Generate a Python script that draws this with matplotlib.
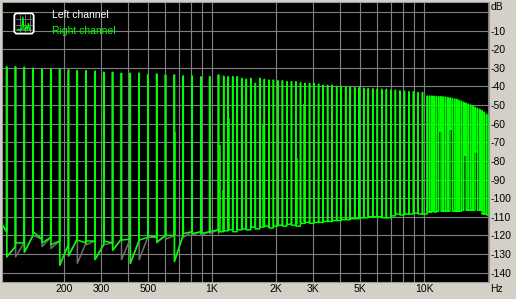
import matplotlib
matplotlib.use('Agg')
import matplotlib.pyplot as plt
from matplotlib.patches import FancyBboxPatch
from matplotlib.ticker import NullLocator

# --- data (Hz / dB) ---
# tones below ~1 kHz (one tone every ~10 %)
low_freqs = [107.5, 118.3, 130.2, 143.3, 157.7, 173.6, 191.1, 210.3, 231.4, 254.7,
             280.4, 308.6, 339.6, 373.8, 411.4, 452.8, 498.4, 548.5, 603.7, 664.4,
             731.3, 804.9, 885.9, 975.0, 1073]
low_peaks = [-29.5, -29.5, -29.8, -30.3, -30.7, -30.7, -30.7, -31.2, -31.6, -31.6,
             -31.9, -32.5, -32.5, -33.0, -33.0, -33.0, -33.9, -33.4, -33.9, -33.9,
             -34.5, -34.5, -35.0, -34.8, -33.9]
# dip right after each tone, and floor level just before each tone
low_troughs_r = [-131.5, -124, -129, -118, -124, -125, -136, -131, -122.5, -123,
                 -133, -123, -128, -122.5, -135, -122.5, -120, -123.5, -120, -134,
                 -119, -119, -119, -118, -118]
low_troughs_l = [-131.5, -131.5, -129, -120, -126, -127, -136, -131, -135, -125,
                 -133, -125, -128, -133, -135, -133, -121, -124, -122, -134,
                 -121, -120, -120, -119, -119]
low_bases = [-118, -126, -124, -120, -122, -121, -123, -125, -122, -124,
             -123, -125, -124, -122, -122, -123, -121, -121, -120, -120,
             -120, -118, -118, -118, -117]

# tones 1 kHz .. 10 kHz (one tone every ~5 %)
mid_freqs = [1135.5, 1192.6, 1252.6, 1315.6, 1381.8, 1451.3, 1524.3, 1601.0, 1681.5, 1766.1,
             1854.9, 1948.2, 2046.2, 2149.1, 2257.2, 2370.7, 2490.0, 2615.2, 2746.8, 2885.0,
             3030.1, 3182.5, 3342.6, 3510.7, 3687.3, 3872.8, 4067.6, 4272.2, 4487.1, 4712.8,
             4949.9, 5198.9, 5460.4, 5735.1, 6023.6, 6326.6, 6644.8, 6979.0, 7330.0, 7698.7,
             8086.0, 8492.7, 8919.9, 9368.6, 9839.8]
mid_peaks = [-34.5, -34.8, -34.8, -34.8, -35.7, -36.2, -35.7, -38.4, -35.7, -36.2,
             -36.6, -36.6, -37.0, -37.0, -37.5, -37.5, -37.5, -38.1, -38.4, -38.4,
             -38.4, -38.8, -39.4, -39.4, -39.4, -40.0, -40.0, -40.3, -40.3, -40.7,
             -40.7, -41.0, -41.2, -41.3, -41.4, -41.5, -41.6, -42.0, -42.0, -42.4,
             -42.6, -42.9, -42.9, -43.3, -43.3]
mid_troughs = [-117.5, -117, -118, -117, -116.5, -117, -115.5, -116.5, -115.5, -115,
               -116, -115, -114.5, -115, -114, -114.5, -115, -113.5, -113, -113.5,
               -113, -113, -112.5, -112.5, -112, -112, -111.5, -111.5, -111, -111,
               -110.5, -110.5, -110, -110, -110, -110.5, -110.5, -109.5, -108.5, -109,
               -108.5, -108.5, -108, -108.5, -108.5]

# tones above 10 kHz (one tone every ~2.5 %)
high_freqs = [10366, 10626, 10892, 11165, 11445, 11732, 12026, 12328, 12637, 12954,
              13279, 13612, 13953, 14303, 14662, 15030, 15407, 15793, 16189, 16595,
              17011, 17438, 17875, 18323, 18783, 19254, 19737, 20230]
high_peaks = [-45.2, -45.2, -45.2, -45.3, -45.4, -45.5, -45.5, -45.6, -45.8, -46.0,
              -46.2, -46.5, -46.8, -47.0, -47.5, -48.0, -48.6, -49.0, -49.5, -50.0,
              -50.6, -51.2, -51.8, -52.3, -53.0, -53.8, -55.0, -55.5]
high_troughs = [-107.5, -107.5, -107, -107.5, -107, -64, -107, -107, -107, -107,
                -63, -107, -107, -107, -107, -106.5, -77, -106.5, -106.5, -106.5,
                -106.5, -75, -106.5, -106.5, -108.5, -108.5, -109, -109]

# shorter side lines next to some tones
side_freqs = [672, 1085, 1123, 1200, 1740, 2512, 2716, 5240]
side_tops = [-64.4, -71.6, -95.8, -57.2, -60.8, -78.7, -49.2, -85.9]
side_bases = [-120, -118, -118, -117, -115, -114, -113, -110.5]

start_freq, start_db = 102.2, -114

y_ticks = [0, -10, -20, -30, -40, -50, -60, -70, -80, -90, -100, -110, -120, -130, -140]
x_grid = [200, 300, 400, 500, 600, 700, 800, 900, 1000, 2000, 3000, 4000, 5000,
          6000, 7000, 8000, 9000, 10000, 20000]
x_lab_pos = [200, 300, 500, 1000, 2000, 3000, 5000, 10000]
x_lab_txt = ['200', '300', '500', '1K', '2K', '3K', '5K', '10K']

icon_levels = [0.14, 0.18, 0.13, 0.2, 0.15, 0.95, 0.16, 0.14, 0.35, 0.15, 0.55, 0.14, 0.16]

GREEN = '#00ff00'
BG = '#d4d0c8'
GRID = '#808080'

plt.rcParams['font.family'] = ['Liberation Sans', 'DejaVu Sans']
plt.rcParams['font.size'] = 7.5


def spectrum(freqs, peaks, troughs, bases=None, half=1.0012):
    # each tone drawn as a narrow spike rising out of the noise floor
    xs, ys = [start_freq], [start_db]
    prev = start_db
    for i, (f, p, t) in enumerate(zip(freqs, peaks, troughs)):
        b = bases[i] if bases is not None and i < len(bases) else prev
        xs += [f / half, f / half, f * half, f * half]
        ys += [b, p, p, t]
        prev = t
    return xs, ys


W, H = 516, 299
fig = plt.figure(figsize=(W / 100, H / 100), dpi=100, facecolor=BG)
ax = fig.add_axes([2 / W, 17 / H, 487 / W, 280 / H])
ax.set_facecolor('black')
ax.set_xscale('log')
ax.set_xlim(102.2, 20262)
ax.set_ylim(-145, 5.3)

# left channel (grey, mostly hidden behind the right one)
lx, ly = spectrum(low_freqs, low_peaks, low_troughs_l, low_bases)
ax.plot(lx, ly, color='#6e6e6e', lw=1.1, zorder=2)

# right channel
all_f = low_freqs + mid_freqs + high_freqs
all_p = low_peaks + mid_peaks + high_peaks
all_t = low_troughs_r + mid_troughs + high_troughs
rx, ry = spectrum(all_f, all_p, all_t, low_bases)
ax.plot(rx, ry, color=GREEN, lw=1.1, zorder=3)
ax.vlines(side_freqs, side_bases, side_tops, color=GREEN, lw=1.1, zorder=3)

# grid / ticks
labels = dict(zip(x_lab_pos, x_lab_txt))
ax.set_xticks(x_grid)
ax.set_xticklabels([labels.get(f, '') for f in x_grid])
ax.xaxis.set_minor_locator(NullLocator())
ax.set_yticks(y_ticks)
ax.set_yticklabels([''] + [str(v) for v in y_ticks[1:]])
ax.yaxis.tick_right()
ax.tick_params(axis='x', length=0, pad=1.5, labelsize=7.5, colors='black')
ax.tick_params(axis='y', length=0, pad=1, labelsize=7.5, colors='black')
ax.grid(True, color=GRID, lw=0.8)
ax.set_axisbelow(True)
for s in ax.spines.values():
    s.set_color('#9a9a9a')
    s.set_linewidth(0.8)

fig.text(491 / W, 1 - 7.5 / H, 'dB', ha='left', va='center', fontsize=7.5)
fig.text(490 / W, 1 - 288.5 / H, 'Hz', ha='left', va='center', fontsize=7.5)

# legend
fig.text(52 / W, 1 - 14.5 / H, 'Left channel', color='white', ha='left', va='center', fontsize=7.5)
fig.text(52 / W, 1 - 30.5 / H, 'Right channel', color=GREEN, ha='left', va='center', fontsize=7.5)

ic = fig.add_axes([13 / W, 1 - 35 / H, 22 / W, 23 / H])
ic.set_xlim(0, 1)
ic.set_ylim(0, 1)
ic.axis('off')
ic.add_patch(FancyBboxPatch((0.06, 0.06), 0.88, 0.88, boxstyle='round,pad=0,rounding_size=0.12',
                            facecolor='black', edgecolor='white', lw=1.3, transform=ic.transAxes))
for g in [0.32, 0.55, 0.78]:
    ic.plot([g, g], [0.14, 0.86], color=GRID, lw=0.6)
    ic.plot([0.14, 0.86], [g - 0.1, g - 0.1], color=GRID, lw=0.6)
n = len(icon_levels)
ic.plot([0.2 + 0.6 * i / (n - 1) for i in range(n)], [0.12 + 0.7 * v for v in icon_levels],
        color=GREEN, lw=0.9)

fig.savefig('out.png', dpi=100, facecolor=BG)
